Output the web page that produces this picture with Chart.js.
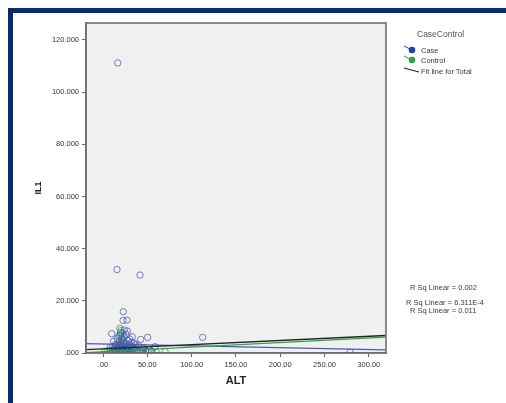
<!DOCTYPE html>
<html>
<head>
<meta charset="utf-8">
<script src="https://cdn.jsdelivr.net/npm/chart.js@4"></script>
<style>
  body { margin: 0; background: #fff; font-family: "Liberation Sans", Arial, sans-serif; }
  #wrap { position: relative; width: 506px; height: 403px; overflow: hidden; }
  #c { position: absolute; left: 0; top: 0; }
  .bar { position: absolute; background: #0b2a6e; }
  .txt { position: absolute; color: #3a3a3a; font-size: 7.5px; white-space: nowrap; }
</style>
</head>
<body>
<div id="wrap">
  <canvas id="c" width="506" height="403"></canvas>
  <div class="bar" style="left:8px;top:8px;width:498px;height:5px"></div>
  <div class="bar" style="left:8px;top:8px;width:5px;height:395px"></div>

  <div class="txt" style="left:417px;top:29px;font-size:8.5px;color:#555">CaseControl</div>
  <svg style="position:absolute;left:402px;top:44px" width="20" height="32">
    <line x1="2" y1="2" x2="10" y2="6" stroke="#2f3f9f" stroke-width="1"/>
    <circle cx="10" cy="6" r="3.3" fill="#2540a8"/>
    <line x1="2" y1="12" x2="10" y2="16" stroke="#2a9a3c" stroke-width="1"/>
    <circle cx="10" cy="16" r="3.3" fill="#27a83e"/>
    <line x1="2" y1="24" x2="17" y2="28" stroke="#222" stroke-width="1.2"/>
  </svg>
  <div class="txt" style="left:421px;top:46px">Case</div>
  <div class="txt" style="left:421px;top:56px">Control</div>
  <div class="txt" style="left:421px;top:67px">Fit line for Total</div>

  <div class="txt" style="left:410px;top:283px">R Sq Linear = 0.002</div>
  <div class="txt" style="left:406px;top:298px">R Sq Linear = 6.311E-4</div>
  <div class="txt" style="left:410px;top:306px">R Sq Linear = 0.011</div>
</div>
<script>
// scatter values
var caseALT = [16.6, 15.8, 41.8, 22.9, 22.6, 27.0, 9.8, 27.4, 33.0, 42.5, 50.4, 112.5, 58.7, 278.8,
  12, 14, 16, 18, 19, 20, 21, 22, 23, 24, 25, 26, 28, 29, 30, 31, 32, 34, 35, 36, 38, 40, 44, 46, 48, 52, 55,
  17, 19, 21, 23, 25, 27, 15, 13, 11, 8, 20, 24, 26, 30, 18, 22, 33, 37, 45];
var caseIL1 = [111.2, 32.0, 29.9, 15.8, 12.5, 12.6, 7.4, 8.4, 6.2, 5.2, 6.0, 6.0, 2.4, 0.3,
  4.5, 3.2, 5.5, 4.1, 6.8, 3.0, 5.0, 2.5, 4.4, 6.0, 3.6, 2.2, 4.8, 1.8, 3.2, 2.6, 4.0, 1.5, 3.8, 2.0, 1.2, 2.8, 1.0, 1.6, 0.8, 1.2, 0.6,
  2.0, 1.2, 1.5, 0.9, 1.3, 0.7, 1.0, 1.8, 2.5, 2.0, 7.8, 8.8, 7.2, 5.4, 3.0, 1.0, 2.4, 3.2, 2.1];

var controlALT = [19, 20, 22, 18, 21, 23, 2, 5, 8, 10, 12, 14, 16, 18, 20, 22, 24, 26, 28, 30, 32, 34, 36, 38,
  42, 45, 50, 55, 60, 70, 15, 17, 25, 27, 19, 21, 23, 11, 13, 29];
var controlIL1 = [9.5, 8.6, 7.4, 6.5, 5.8, 4.0, 0.5, 0.8, 1.0, 0.6, 1.4, 0.9, 1.6, 0.7, 1.2, 2.0, 0.5, 1.1, 0.9, 1.5, 0.6, 0.8, 1.2, 0.4,
  0.7, 0.3, 0.5, 0.6, 0.3, 0.5, 3.0, 2.5, 2.8, 1.8, 2.2, 3.4, 1.0, 0.3, 0.4, 0.2];

// fit lines (end points)
var fitALT = [-19, 319];
var fitTotal = [1.3, 6.7];
var fitCase = [3.6, 1.2];
var fitControl = [0.2, 6.1];

var xTicks = [0, 50, 100, 150, 200, 250, 300];
var yTicks = [0, 20, 40, 60, 80, 100, 120];

function pts(xs, ys) {
  var out = [];
  for (var i = 0; i < xs.length; i++) out.push({x: xs[i], y: ys[i]});
  return out;
}

var plotBg = {
  id: 'plotBg',
  beforeDraw: function(chart) {
    var a = chart.chartArea, ctx = chart.ctx;
    ctx.save();
    ctx.fillStyle = '#f0f0f0';
    ctx.fillRect(a.left, a.top, a.right - a.left, a.bottom - a.top);
    ctx.restore();
  },
  afterDraw: function(chart) {
    var a = chart.chartArea, ctx = chart.ctx;
    ctx.save();
    ctx.strokeStyle = '#6e6e6e';
    ctx.lineWidth = 1.6;
    ctx.strokeRect(a.left, a.top, a.right - a.left, a.bottom - a.top);
    ctx.restore();
  }
};

var ctx = document.getElementById('c');
var chart = new Chart(ctx, {
  type: 'scatter',
  data: {
    datasets: [
      { label: 'Fit line for Total', type: 'line', data: pts(fitALT, fitTotal), borderColor: '#222', borderWidth: 1.3, pointRadius: 0, order: 1 },
      { label: 'Control fit', type: 'line', data: pts(fitALT, fitControl), borderColor: '#2aa040', borderWidth: 1.2, pointRadius: 0, order: 2 },
      { label: 'Case fit', type: 'line', data: pts(fitALT, fitCase), borderColor: '#4a5ab8', borderWidth: 1.2, pointRadius: 0, order: 3 },
      { label: 'Case', data: pts(caseALT, caseIL1), borderColor: 'rgba(60,75,175,0.7)', backgroundColor: 'rgba(0,0,0,0)', pointRadius: 3.2, borderWidth: 1, order: 4 },
      { label: 'Control', data: pts(controlALT, controlIL1), borderColor: 'rgba(40,160,60,0.75)', backgroundColor: 'rgba(0,0,0,0)', pointRadius: 3.2, borderWidth: 1, order: 5 }
    ]
  },
  options: {
    responsive: false,
    animation: false,
    layout: { padding: { left: 0, top: 23, right: 120, bottom: 0 } },
    plugins: { legend: { display: false }, tooltip: { enabled: false } },
    scales: {
      x: {
        type: 'linear',
        min: -19.2,
        max: 319.4,
        afterFit: function(s) { s.height = 50; },
        afterBuildTicks: function(s) { s.ticks = xTicks.map(function(v) { return {value: v}; }); },
        grid: { drawOnChartArea: false, drawTicks: true, tickLength: 4, color: '#666' },
        border: { display: true, color: '#6e6e6e', width: 1.6 },
        ticks: {
          padding: 3, color: '#333', font: { size: 7.5, family: 'Liberation Sans' }, maxRotation: 0,
          callback: function(v) { return v === 0 ? '.00' : v.toFixed(2); }
        },
        title: { display: true, text: 'ALT', color: '#222', font: { size: 11, weight: 'bold', family: 'Liberation Sans' }, padding: { top: 0, bottom: 15 } }
      },
      y: {
        type: 'linear',
        min: 0,
        max: 126.5,
        afterFit: function(s) { s.width = 86; },
        afterBuildTicks: function(s) { s.ticks = yTicks.map(function(v) { return {value: v}; }); },
        grid: { drawOnChartArea: false, drawTicks: true, tickLength: 4, color: '#666' },
        border: { display: true, color: '#6e6e6e', width: 1.6 },
        ticks: {
          padding: 3, color: '#333', font: { size: 7.5, family: 'Liberation Sans' },
          callback: function(v) { return v === 0 ? '.000' : v.toFixed(3); }
        },
        title: { display: true, text: 'IL1', color: '#222', font: { size: 9, weight: 'bold', family: 'Liberation Sans' }, padding: { top: 33, bottom: 0 } }
      }
    }
  },
  plugins: [plotBg]
});
</script>
</body>
</html>
